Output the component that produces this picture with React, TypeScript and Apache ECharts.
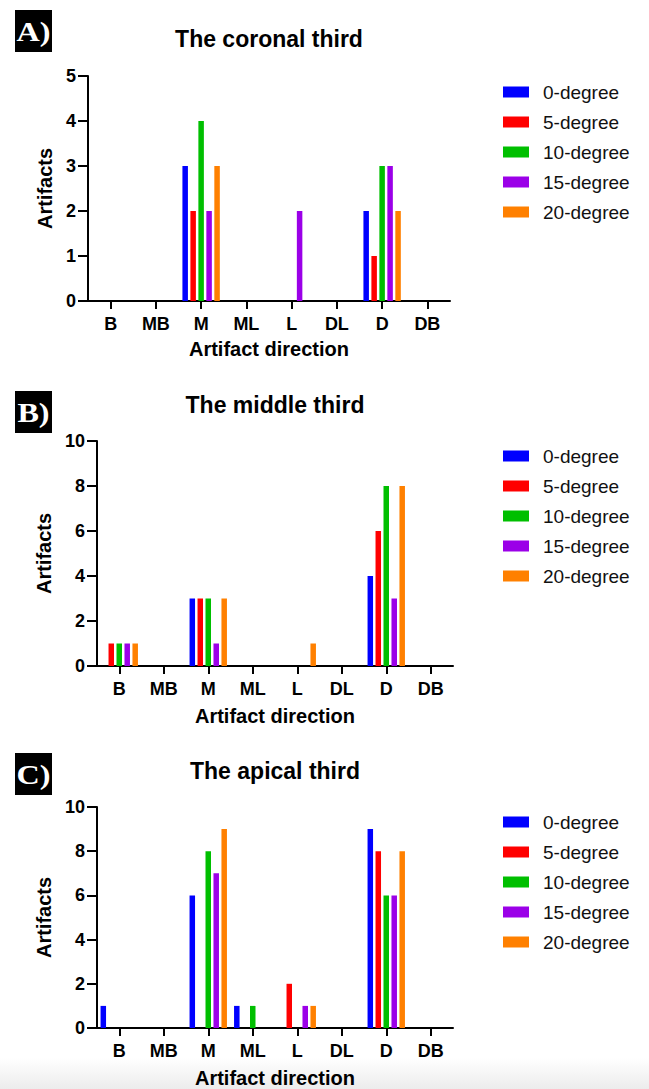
import React, { useEffect, useRef } from "react";
import * as echarts from "echarts";

const categories = ["B", "MB", "M", "ML", "L", "DL", "D", "DB"];
const seriesNames = ["0-degree", "5-degree", "10-degree", "15-degree", "20-degree"];
const colors = ["#0000ff", "#ff0000", "#00bf00", "#9b00e8", "#ff8000"];

const panelLabels = ["A)", "B)", "C)"];
const panelTitles = ["The coronal third", "The middle third", "The apical third"];
const yMax = [5, 10, 10];
const yInterval = [1, 2, 2];

// coronal third
const coronal0 = [0, 0, 3, 0, 0, 0, 2, 0];
const coronal5 = [0, 0, 2, 0, 0, 0, 1, 0];
const coronal10 = [0, 0, 4, 0, 0, 0, 3, 0];
const coronal15 = [0, 0, 2, 0, 2, 0, 3, 0];
const coronal20 = [0, 0, 3, 0, 0, 0, 2, 0];

// middle third
const middle0 = [0, 0, 3, 0, 0, 0, 4, 0];
const middle5 = [1, 0, 3, 0, 0, 0, 6, 0];
const middle10 = [1, 0, 3, 0, 0, 0, 8, 0];
const middle15 = [1, 0, 1, 0, 0, 0, 3, 0];
const middle20 = [1, 0, 3, 0, 1, 0, 8, 0];

// apical third
const apical0 = [1, 0, 6, 1, 0, 0, 9, 0];
const apical5 = [0, 0, 0, 0, 2, 0, 8, 0];
const apical10 = [0, 0, 8, 1, 0, 0, 6, 0];
const apical15 = [0, 0, 7, 0, 1, 0, 6, 0];
const apical20 = [0, 0, 9, 0, 1, 0, 8, 0];

const panelData = [
  [coronal0, coronal5, coronal10, coronal15, coronal20],
  [middle0, middle5, middle10, middle15, middle20],
  [apical0, apical5, apical10, apical15, apical20],
];

const FONT = "'Liberation Sans', Arial, sans-serif";

export default function App() {
  const ref = useRef<HTMLDivElement>(null);

  useEffect(() => {
    document.body.style.margin = "0";
    if (!ref.current) return;
    const chart = echarts.init(ref.current, null, { renderer: "svg" });

    const grids = [
      { left: 88, top: 76, width: 362, height: 225 },
      { left: 97, top: 441, width: 356, height: 225 },
      { left: 97, top: 807, width: 356, height: 224 },
    ];
    const titlePos = [
      { x: 269, y: 39 },
      { x: 275, y: 405 },
      { x: 275, y: 771 },
    ];
    const labelBox = [
      { x: 15, y: 10 },
      { x: 15, y: 391 },
      { x: 15, y: 753 },
    ];
    const legendTop = [82, 446, 812];
    const xNameGap = [38, 40, 40];
    const yNameGap = [32, 41, 41];

    const axisLine = { show: true, lineStyle: { color: "#000", width: 2 } };
    const axisTick = { show: true, length: 9, lineStyle: { color: "#000", width: 2 } };
    const labelStyle = { color: "#000", fontWeight: "bold" as const, fontSize: 18, fontFamily: FONT };

    const series: any[] = [];
    panelData.forEach((sets, p) => {
      sets.forEach((vals, s) => {
        series.push({
          type: "bar",
          name: seriesNames[s],
          xAxisIndex: p,
          yAxisIndex: p,
          data: vals,
          barWidth: 5.5,
          barGap: "45%",
          itemStyle: { color: colors[s] },
        });
      });
    });

    const graphic: any[] = [
      {
        type: "rect",
        z: -10,
        shape: { x: 0, y: 1058, width: 649, height: 31 },
        style: {
          fill: new echarts.graphic.LinearGradient(0, 0, 0, 1, [
            { offset: 0, color: "#ffffff" },
            { offset: 1, color: "#ececec" },
          ]),
        },
      },
    ];
    panelLabels.forEach((lab, p) => {
      graphic.push({
        type: "rect",
        shape: { x: labelBox[p].x, y: labelBox[p].y, width: 37, height: 42 },
        style: { fill: "#000" },
      });
      graphic.push({
        type: "text",
        x: labelBox[p].x + 18.5,
        y: labelBox[p].y + 22,
        scaleX: 1.15,
        style: {
          text: lab,
          fill: "#fff",
          font: "bold 28px 'Liberation Serif', 'Times New Roman', serif",
          textAlign: "center",
          textVerticalAlign: "middle",
        },
      });
      graphic.push({
        type: "text",
        x: titlePos[p].x,
        y: titlePos[p].y,
        style: {
          text: panelTitles[p],
          fill: "#000",
          font: "bold 23px " + FONT,
          textAlign: "center",
          textVerticalAlign: "middle",
        },
      });
    });

    chart.setOption({
      animation: false,
      backgroundColor: "#fff",
      grid: grids,
      xAxis: grids.map((_, p) => ({
        type: "category",
        gridIndex: p,
        data: categories,
        boundaryGap: true,
        axisLine,
        axisTick: { ...axisTick, alignWithLabel: true, length: 8 },
        axisLabel: { ...labelStyle, margin: 14, interval: 0 },
        splitLine: { show: false },
        name: "Artifact direction",
        nameLocation: "middle",
        nameGap: xNameGap[p],
        nameTextStyle: { color: "#000", fontWeight: "bold", fontSize: 20, fontFamily: FONT },
      })),
      yAxis: grids.map((_, p) => ({
        type: "value",
        gridIndex: p,
        min: 0,
        max: yMax[p],
        interval: yInterval[p],
        axisLine,
        axisTick: { ...axisTick, length: 10 },
        axisLabel: { ...labelStyle, margin: 12 },
        splitLine: { show: false },
        name: "Artifacts",
        nameLocation: "middle",
        nameGap: yNameGap[p],
        nameTextStyle: { color: "#000", fontWeight: "bold", fontSize: 20, fontFamily: FONT },
      })),
      legend: legendTop.map((t) => ({
        left: 503,
        top: t,
        padding: 0,
        orient: "vertical",
        icon: "rect",
        itemWidth: 26,
        itemHeight: 11,
        itemGap: 10,
        data: seriesNames,
        selectedMode: false,
        textStyle: {
          color: "#111",
          fontSize: 19,
          lineHeight: 20,
          fontFamily: FONT,
          padding: [0, 0, 0, 9],
        },
      })),
      graphic,
      series,
    });

    return () => chart.dispose();
  }, []);

  return <div ref={ref} style={{ width: 649, height: 1089 }} />;
}
